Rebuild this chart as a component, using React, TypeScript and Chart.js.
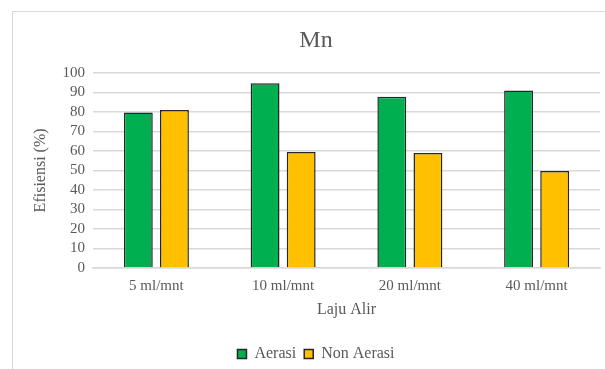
import React, { useEffect, useRef } from "react";
import { Chart, registerables } from "chart.js";

Chart.register(...registerables);

const categories = ["5 ml/mnt", "10 ml/mnt", "20 ml/mnt", "40 ml/mnt"];
const aerasi = [79.6, 94.7, 87.7, 90.9];
const nonAerasi = [81.0, 59.4, 58.9, 49.7];
const yMin = 0;
const yMax = 100;
const yStep = 10;

const FONT = "'Liberation Serif', 'Times New Roman', serif";

export default function App() {
  const ref = useRef<HTMLCanvasElement | null>(null);

  useEffect(() => {
    if (!ref.current) return;
    const chart = new Chart(ref.current, {
      type: "bar",
      data: {
        labels: categories,
        datasets: [
          {
            label: "Aerasi",
            data: aerasi,
            backgroundColor: "#00B050",
            borderColor: "#262626",
            borderWidth: 1.5,
            categoryPercentage: 0.57,
            barPercentage: 0.8,
          },
          {
            label: "Non Aerasi",
            data: nonAerasi,
            backgroundColor: "#FFC000",
            borderColor: "#262626",
            borderWidth: 1.5,
            categoryPercentage: 0.57,
            barPercentage: 0.8,
          },
        ],
      },
      options: {
        animation: false,
        responsive: false,
        maintainAspectRatio: false,
        layout: { padding: { left: 12, right: 0, top: 11, bottom: -3 } },
        plugins: {
          title: {
            display: true,
            text: "Mn",
            color: "#595959",
            font: { family: FONT, size: 24, weight: "normal" },
            padding: { top: 15, bottom: 18 },
          },
          legend: {
            position: "bottom",
            labels: {
              color: "#595959",
              font: { family: FONT, size: 16 },
              boxWidth: 9,
              boxHeight: 9,
              padding: 8,
            },
          },
          tooltip: { enabled: false },
        },
        scales: {
          x: {
            afterFit: (axis: any) => {
              axis.height = 70;
            },
            grid: { display: false, drawTicks: false },
            border: { display: true, color: "#d9d9d9", width: 1.5 },
            ticks: {
              color: "#595959",
              font: { family: FONT, size: 15 },
              padding: 9,
            },
            title: {
              display: true,
              text: "Laju Alir",
              color: "#595959",
              font: { family: FONT, size: 16 },
              padding: { top: 0, bottom: 19 },
            },
          },
          y: {
            min: yMin,
            max: yMax,
            afterFit: (axis: any) => {
              axis.width = 81;
            },
            grid: { color: "#d9d9d9", lineWidth: 1.5, drawTicks: false },
            border: { display: false },
            ticks: {
              stepSize: yStep,
              autoSkip: false,
              color: "#595959",
              font: { family: FONT, size: 15 },
              padding: 8,
            },
            title: {
              display: true,
              text: "Efisiensi (%)",
              color: "#595959",
              font: { family: FONT, size: 16 },
              padding: { top: 19, bottom: 0 },
            },
          },
          yRight: {
            type: "linear",
            position: "right",
            min: yMin,
            max: yMax,
            afterFit: (axis: any) => {
              axis.width = 20;
            },
            grid: { display: false, drawTicks: false },
            border: { display: false },
            ticks: { display: false },
          },
        },
      },
    });
    return () => chart.destroy();
  }, []);

  return (
    <div style={{ position: "absolute", left: 0, top: 0, width: 605, height: 369, overflow: "hidden", background: "#fff" }}>
      <div
        style={{
          position: "absolute",
          left: 12,
          top: 11,
          width: 640,
          height: 400,
          border: "1px solid #d9d9d9",
        }}
      />
      <canvas ref={ref} width={620} height={369} style={{ position: "absolute", left: 0, top: 0 }} />
    </div>
  );
}
